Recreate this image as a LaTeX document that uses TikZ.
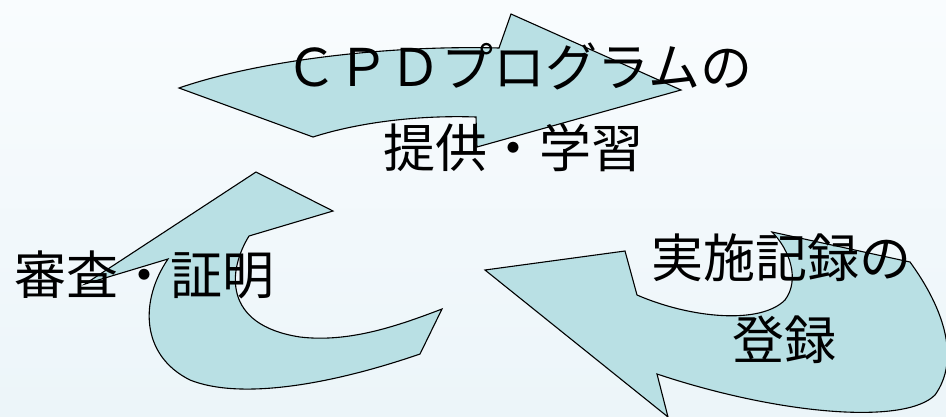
\documentclass[tikz,border=0pt]{standalone}
\usepackage{fontspec}
\newfontfamily\jpfont{Noto Sans CJK JP}
\definecolor{bgtop}{RGB}{249,252,254}
\definecolor{bgbot}{RGB}{236,245,249}
\definecolor{arrowfill}{RGB}{185,224,228}
\begin{document}
\begin{tikzpicture}[x=1pt,y=-1pt,
  arrowshape/.style={fill=arrowfill,draw=black,line width=1.1pt,line join=miter},
  jptext/.style={inner sep=0pt,font=\jpfont\fontsize{52}{60}\selectfont}]
\shade[top color=bgtop,bottom color=bgbot] (0pt,0pt) rectangle (946pt,-416pt);
\useasboundingbox (0pt,0pt) rectangle (946pt,-416pt);
% top arrow
\draw[arrowshape] (179,88) .. controls (260,60) and (390,45) .. (499,48) -- (511,14) -- (681,90) -- (477,147) -- (476,117) .. controls (420,115) and (360,122) .. (313,137) -- cycle;
% left arrow
\draw[arrowshape] (256,172) -- (333,211) -- (249,236) .. controls (228,270) and (222,325) .. (300,337) .. controls (350,343) and (400,325) .. (442,309) -- (420,354) .. controls (330,385) and (240,400) .. (190,380) .. controls (140,355) and (140,300) .. (168,259) -- (85,284) -- cycle;
% right arrow
\draw[arrowshape] (485,270) -- (625,251) -- (637,295) .. controls (690,318) and (760,325) .. (785,300) .. controls (800,280) and (790,250) .. (772,232) -- (910,262) .. controls (945,310) and (960,360) .. (935,395) .. controls (905,425) and (780,415) .. (657,374) -- (668,417) -- cycle;
% texts
\node[jptext] (t1) at (519,66) {ＣＰＤプログラムの};
\node[jptext] (t2) at (513,148) {提供・学習};
\node[jptext] (l1) at (145,275) {審査・証明};
\node[jptext] (r1) at (781,258) {実施記録の};
\node[jptext] (r2) at (784,340) {登録};
\end{tikzpicture}
\end{document}
